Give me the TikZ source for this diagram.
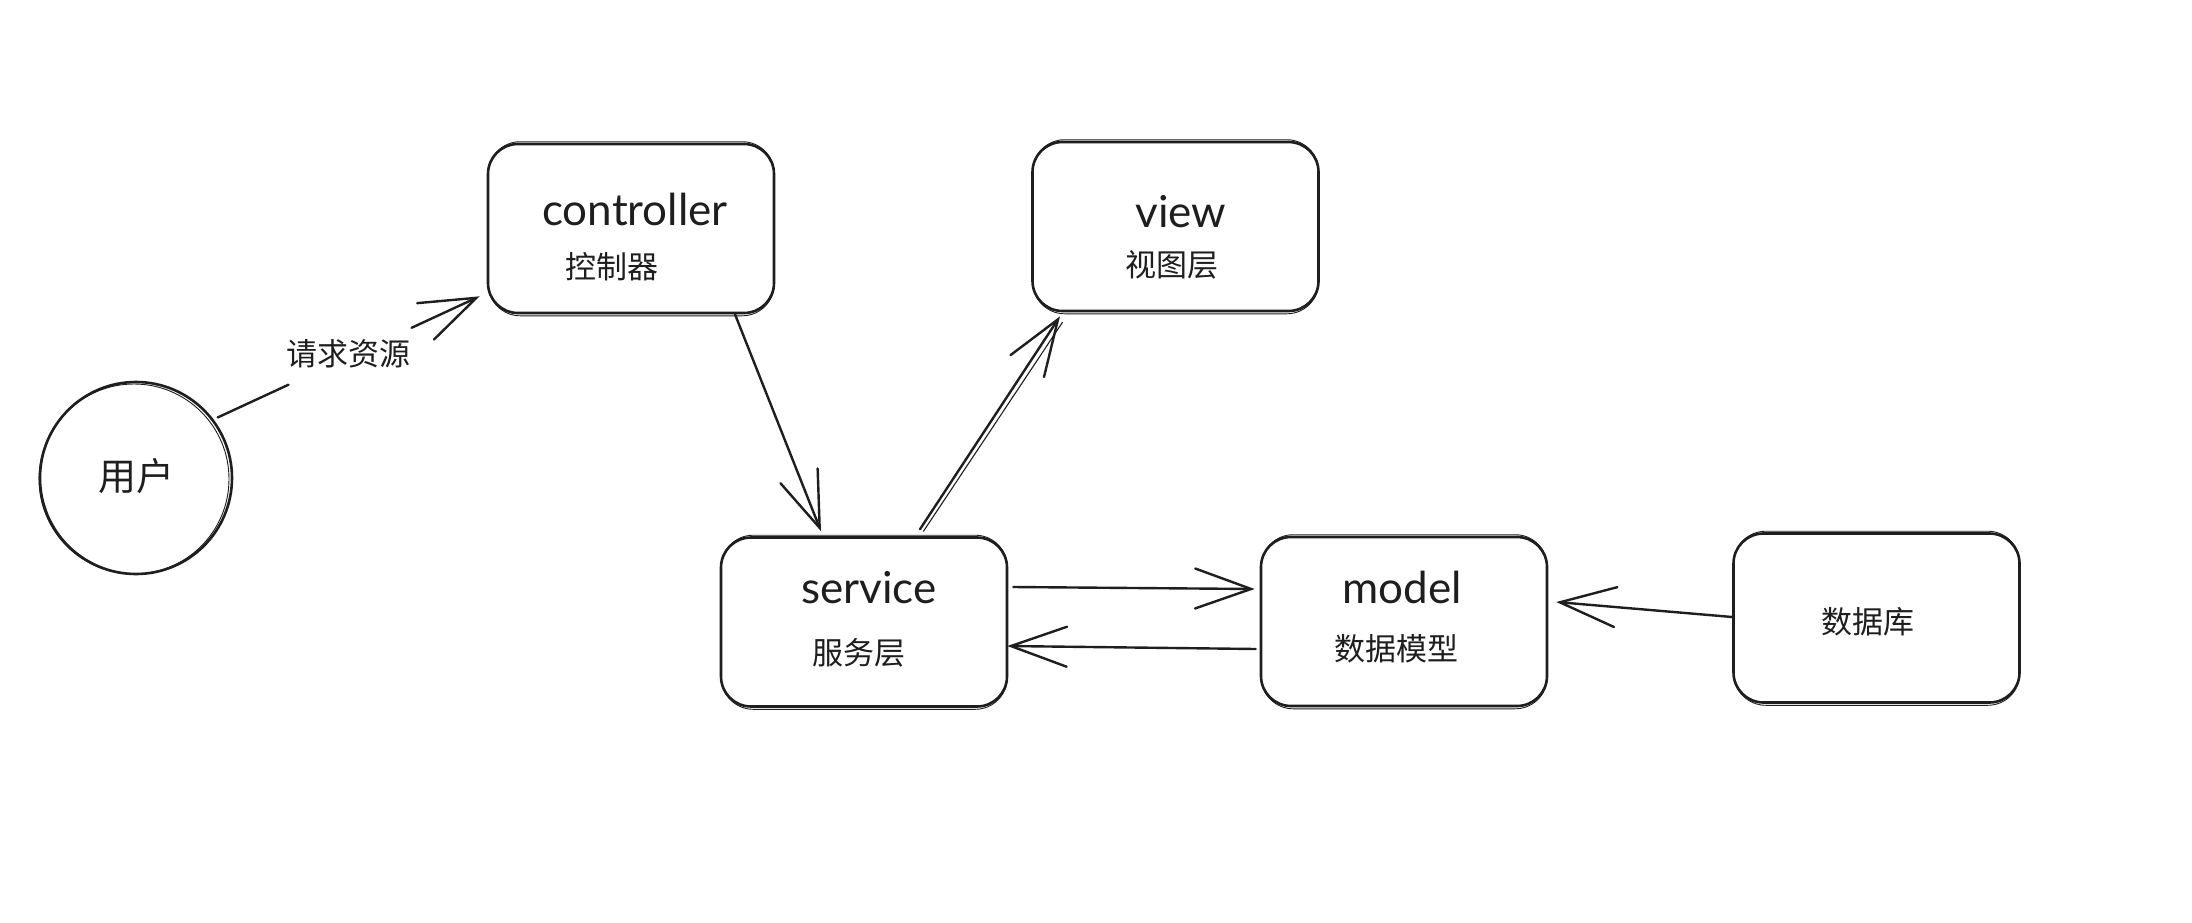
\documentclass[tikz,border=0pt]{standalone}
\usepackage{fontspec}
\setmainfont{Lato}
\newfontfamily\cjk{Noto Sans CJK SC}
\usetikzlibrary{arrows.meta,calc}
\definecolor{ink}{HTML}{1E1E1E}
\begin{document}
\begin{tikzpicture}[x=0.5pt,y=-0.5pt,
  box/.style={draw=ink, line width=1.3pt, rounded corners=15pt, minimum width=143pt, minimum height=84.5pt, inner sep=0pt},
  circ/.style={draw=ink, line width=1.3pt, circle, minimum size=96pt, inner sep=0pt},
  ghost/.style={draw=ink, line width=0.45pt, rounded corners=16pt},
  plain/.style={draw=ink, line width=1.2pt, line cap=round},
  arr/.style={draw=ink, line width=1.2pt, line cap=round, line join=round, -{Straight Barb[length=28pt,width=20pt,line cap=round]}},
  en/.style={font=\fontsize{22pt}{24pt}\selectfont, text=ink, anchor=base, inner sep=0pt},
  zh/.style={font=\cjk\fontsize{15.5pt}{18pt}\selectfont, text=ink, inner sep=0pt},
  zhbig/.style={font=\cjk\fontsize{19pt}{21pt}\selectfont, text=ink, inner sep=0pt}
]
\fill[white] (0,0) rectangle (2192,922);
\useasboundingbox (0,0) rectangle (2192,922);

% shapes
\node[circ] (user) at (136,478) {};
\node[box] (ctrl) at (631,228.5) {};
\node[box] (view) at (1175.5,226.5) {};
\node[box] (svc) at (864,622) {};
\node[box] (model) at (1404,621.5) {};
\node[box] (db) at (1876.5,618) {};

% sketchy second strokes
\foreach \b in {ctrl,view,svc,model,db}
  \draw[ghost] ([shift={(1.5,1.5)}]\b.south west) rectangle ([shift={(-1,-1)}]\b.north east);
\draw[draw=ink, line width=0.45pt] ([shift={(-2,1)}]user.center) circle[radius=47.5pt];

% texts
\node[zhbig] (userT) at (136,476) {用户};
\node[en] (ctrlA) at (635,225) {controller};
\node[zh] (ctrlB) at (612,267) {控制器};
\node[en] (viewA) at (1181,227) {view};
\node[zh] (viewB) at (1172,265) {视图层};
\node[en] (svcA) at (869,603) {service};
\node[zh] (svcB) at (859,653) {服务层};
\node[en] (modelA) at (1402,603) {model};
\node[zh] (modelB) at (1396,649) {数据模型};
\node[zh] (dbT) at (1868,622) {数据库};

% user -> controller with label
\coordinate (a1s) at ([shift={(4,-2)}]user.37);
\coordinate (a1e) at ([shift={(-7,-18)}]ctrl.south west);
\draw[plain] (a1s) -- ($(a1s)!0.27!(a1e)$);
\draw[arr] ($(a1s)!0.74!(a1e)$) -- (a1e);
\node[zh] (req) at (348,354) {请求资源};

% controller -> service
\coordinate (a2s) at ([shift={(104,0)}]ctrl.south);
\coordinate (a2e) at ([shift={(-43,-5)}]svc.north);
\draw[arr] (a2s) -- (a2e);

% service -> view (double stroke)
\coordinate (a3s) at ([shift={(56,-7)}]svc.north);
\coordinate (a3e) at ([shift={(-115.5,4)}]view.south);
\draw[arr] (a3s) -- (a3e);
\draw[draw=ink, line width=0.55pt, line cap=round] ([shift={(3.5,2)}]a3s) -- ([shift={(2.5,6)}]a3e);

% service -> model
\draw[arr] ([shift={(5,-35)}]svc.east) -- ([shift={(-5,-32.5)}]model.west);
% model -> service
\draw[arr] ([shift={(-4,27.5)}]model.west) -- ([shift={(-1,24)}]svc.east);
% database -> model
\draw[arr] ([shift={(0,-1)}]db.west) -- ([shift={(8,-19.5)}]model.east);
\end{tikzpicture}
\end{document}
